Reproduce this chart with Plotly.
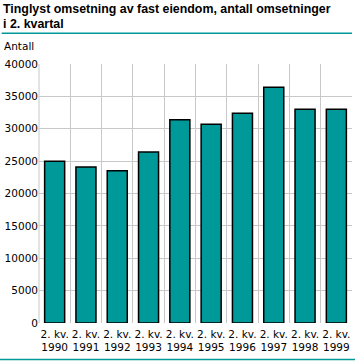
import plotly.graph_objects as go

years = ["1990", "1991", "1992", "1993", "1994", "1995", "1996", "1997", "1998", "1999"]
tick_labels = ["2. kv.<br>" + y for y in years]
values = [25000, 24100, 23500, 26400, 31400, 30700, 32400, 36400, 33000, 33000]
y_ticks = [0, 5000, 10000, 15000, 20000, 25000, 30000, 35000, 40000]

W, H = 360, 361
L, R, T, B = 39.3, 352.0, 64.3, 323.0

def px(x):
    return (x - L) / (R - L)

def py(y):
    return (B - y) / (B - T)

TEAL = "#009999"
FONT = "DejaVu Sans"

fig = go.Figure(go.Bar(
    x=tick_labels, y=values,
    marker=dict(color=TEAL, line=dict(color="black", width=1.5)),
    width=0.64,
))

fig.update_layout(
    width=W, height=H,
    margin=dict(l=L, r=W - R, t=T, b=H - B, pad=0, autoexpand=False),
    plot_bgcolor="white", paper_bgcolor="white",
    showlegend=False,
    font=dict(family=FONT, size=11, color="black"),
    xaxis=dict(
        type="category", tickson="boundaries", showgrid=True,
        gridcolor="#c8c8c8", gridwidth=1, ticks="", showline=False,
        tickfont=dict(size=10.5), zeroline=False, tickangle=0, automargin=False,
        ticklabelstandoff=3,
    ),
    yaxis=dict(
        range=[0, 40000], tickvals=y_ticks, ticktext=[str(v) for v in y_ticks],
        showgrid=True, gridcolor="#c8c8c8", gridwidth=1, ticks="",
        showline=False, zeroline=False, tickfont=dict(size=10.5), automargin=False,
    ),
    shapes=[
        dict(type="line", xref="paper", yref="paper", x0=px(2), x1=px(352), y0=py(33.5), y1=py(33.5),
             line=dict(color=TEAL, width=1.5)),
        dict(type="line", xref="paper", yref="paper", x0=px(0), x1=px(355), y0=py(359.5), y1=py(359.5),
             line=dict(color=TEAL, width=1.5)),
        dict(type="line", xref="paper", yref="paper", x0=0, x1=0, y0=0, y1=1,
             line=dict(color="#c8c8c8", width=1)),
    ],
    annotations=[
        dict(text="<b>Tinglyst omsetning av fast eiendom, antall omsetninger</b>", xref="paper", yref="paper",
             x=px(1), y=py(0), xanchor="left", yanchor="top", showarrow=False,
             font=dict(family="Liberation Sans", size=12.4)),
        dict(text="<b>i 2. kvartal</b>", xref="paper", yref="paper",
             x=px(1), y=py(15), xanchor="left", yanchor="top", showarrow=False,
             font=dict(family="Liberation Sans", size=12.4)),
        dict(text="Antall", xref="paper", yref="paper",
             x=px(2), y=py(38), xanchor="left", yanchor="top", showarrow=False,
             font=dict(family=FONT, size=10.5)),
    ],
)

fig.write_html("out.html", config={"displayModeBar": False},
               post_script="document.body.style.margin='0';document.body.style.overflow='hidden';")
